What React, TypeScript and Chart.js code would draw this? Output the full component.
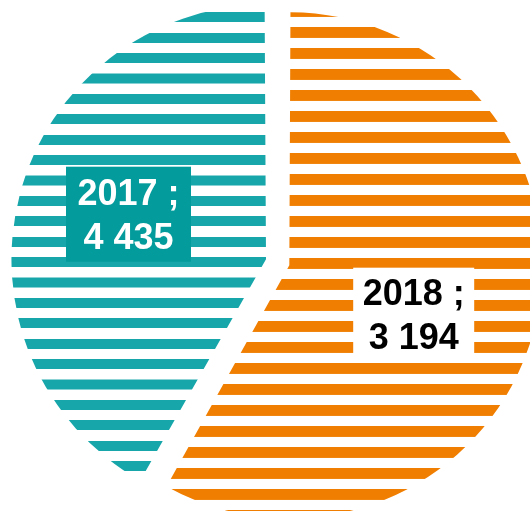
import { useEffect, useRef } from 'react';
import { Chart, registerables } from 'chart.js';

Chart.register(...registerables);

// ---- data ----
const categories = ['2018', '2017'];
// values printed in the data labels
const labelValues = [3194, 4435];
// slice sizes as drawn in the reference (large orange slice starts at 12 o'clock)
const sliceValues = [4435, 3194];
const stripeColors = ['#f07e00', '#17a6aa'];

// ---- styling ----
const W = 530;
const H = 511;
const PATTERN_H = 200;
const stripeSpecs = [
  { period: 21.0, thickness: 11, top: 5.6 },
  { period: 20.4, thickness: 10, top: 12.3 },
];
const arcOffsets = [28.6, 67.8];
const baseRadius = 245.9;
const labelBoxes = [
  { cx: 413.7, cy: 314.7, w: 121, h: 94, fill: '#ffffff', color: '#000000' },
  { cx: 128.5, cy: 214.2, w: 125, h: 95, fill: '#039b9b', color: '#ffffff' },
];
const FONT = 'bold 36px "Liberation Sans", Arial, sans-serif';

function fmt(v: number): string {
  return String(v).replace(/\B(?=(\d{3})+(?!\d))/g, ' ');
}

function makeStripes(color: string, period: number, thickness: number): CanvasPattern {
  const c = document.createElement('canvas');
  c.width = 4;
  c.height = PATTERN_H;
  const g = c.getContext('2d')!;
  g.fillStyle = color;
  g.fillRect(0, 0, 4, (PATTERN_H * thickness) / period);
  return g.createPattern(c, 'repeat')!;
}

const labelPlugin = {
  id: 'boxLabels',
  afterDatasetsDraw(chart: any) {
    const ctx = chart.ctx as CanvasRenderingContext2D;
    ctx.save();
    labelBoxes.forEach((b, i) => {
      ctx.fillStyle = b.fill;
      ctx.fillRect(b.cx - b.w / 2, b.cy - b.h / 2, b.w, b.h);
      ctx.fillStyle = b.color;
      ctx.font = FONT;
      ctx.textAlign = 'center';
      ctx.textBaseline = 'alphabetic';
      ctx.fillText(`${categories[i]} ;`, b.cx, b.cy - 9.5);
      ctx.fillText(fmt(labelValues[i]), b.cx, b.cy + 34.5);
    });
    ctx.restore();
  },
};

export default function App() {
  const ref = useRef<HTMLCanvasElement | null>(null);

  useEffect(() => {
    if (!ref.current) return;
    const patterns = stripeColors.map((c, i) =>
      makeStripes(c, stripeSpecs[i].period, stripeSpecs[i].thickness)
    );
    const chart = new Chart(ref.current, {
      type: 'pie',
      data: {
        labels: categories,
        datasets: [
          {
            data: sliceValues,
            backgroundColor: patterns as any,
            borderWidth: 0,
            offset: arcOffsets as any,
            radius: baseRadius,
            clip: false,
          } as any,
        ],
      },
      options: {
        responsive: false,
        animation: false,
        events: [],
        radius: baseRadius,
        layout: { padding: { left: 34.8, top: 16, right: 0, bottom: 0 } },
        plugins: {
          legend: { display: false },
          tooltip: { enabled: false },
        },
      } as any,
      plugins: [labelPlugin],
    });

    // anchor the stripe patterns to the page (arcs are translated when drawn)
    const meta = chart.getDatasetMeta(0);
    meta.data.forEach((arc: any, i: number) => {
      const half = (arc.startAngle + arc.endAngle) / 2;
      const dy = Math.sin(half) * (arcOffsets[i] / 4);
      const s = stripeSpecs[i];
      patterns[i].setTransform(
        new DOMMatrix([1, 0, 0, s.period / PATTERN_H, 0, s.top - dy])
      );
    });
    chart.draw();

    return () => chart.destroy();
  }, []);

  return (
    <div style={{ position: 'absolute', left: 0, top: 0, width: W, height: H, background: '#fff' }}>
      <canvas ref={ref} width={W} height={H} style={{ width: W, height: H, display: 'block' }} />
    </div>
  );
}
